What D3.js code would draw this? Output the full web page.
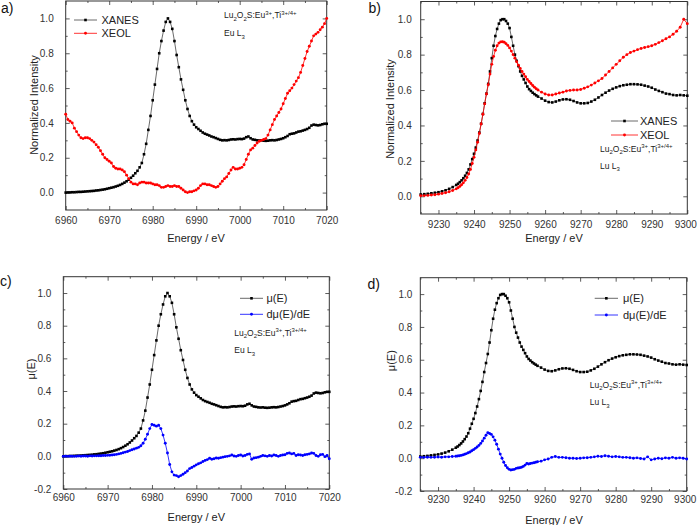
<!DOCTYPE html>
<html><head><meta charset="utf-8">
<script src="https://cdn.jsdelivr.net/npm/d3@7"></script>
<style>
html,body{margin:0;padding:0;background:#fff;}
text{font-family:"Liberation Sans",Arial,sans-serif;}
</style>
</head><body>
<svg id="chart" width="697" height="525"></svg>
<script>
// ---------- DATA ----------
// Eu L3 edge energies (eV) for panels a and c
const energyEu = [6960,6960.5,6961,6961.5,6962,6962.5,6963,6963.5,6964,6964.5,6965,6965.5,6966,6966.5,6967,6967.5,6968,6968.5,6969,6969.5,
6970,6970.5,6971,6971.5,6972,6972.5,6973,6973.5,6974,6974.5,6975,6975.5,6976,6976.5,6977,6977.5,6978,6978.5,6979,6979.5,
6980,6980.5,6981,6981.5,6982,6982.5,6983,6983.5,6984,6984.5,6985,6985.5,6986,6986.5,6987,6987.5,6988,6988.5,6989,6989.5,
6990,6990.5,6991,6991.5,6992,6992.5,6993,6993.5,6994,6994.5,6995,6995.5,6996,6996.5,6997,6997.5,6998,6998.5,6999,6999.5,
7000,7000.5,7001,7001.5,7002,7002.5,7003,7003.5,7004,7004.5,7005,7005.5,7006,7006.5,7007,7007.5,7008,7008.5,7009,7009.5,
7010,7010.5,7011,7011.5,7012,7012.5,7013,7013.5,7014,7014.5,7015,7015.5,7016,7016.5,7017,7017.5,7018,7018.5,7019,7019.5,7020];
// XANES / mu(E) at Eu L3
const xanesEu = [0.000,0.001,0.001,0.002,0.002,0.003,0.004,0.004,0.005,0.006,0.007,0.008,0.009,0.010,0.012,0.013,0.015,0.017,0.019,0.022,
0.025,0.028,0.031,0.035,0.039,0.044,0.050,0.057,0.065,0.074,0.085,0.097,0.111,0.125,0.145,0.170,0.220,0.280,0.360,0.440,
0.530,0.620,0.710,0.800,0.870,0.930,0.980,1.000,0.980,0.940,0.870,0.790,0.720,0.650,0.590,0.530,0.480,0.440,0.410,0.390,
0.375,0.365,0.355,0.345,0.338,0.333,0.328,0.322,0.318,0.313,0.308,0.303,0.300,0.301,0.300,0.302,0.305,0.306,0.305,0.307,
0.308,0.307,0.310,0.318,0.322,0.312,0.305,0.303,0.300,0.299,0.300,0.298,0.297,0.298,0.300,0.301,0.300,0.302,0.305,0.308,
0.312,0.318,0.325,0.335,0.338,0.340,0.345,0.350,0.352,0.356,0.360,0.365,0.372,0.385,0.390,0.388,0.386,0.388,0.392,0.395,0.395];
// XEOL at Eu L3
const xeolEu = [0.450,0.420,0.410,0.400,0.370,0.350,0.330,0.315,0.310,0.315,0.315,0.310,0.300,0.290,0.275,0.260,0.240,0.220,0.200,0.190,
0.180,0.170,0.150,0.140,0.135,0.135,0.130,0.120,0.100,0.080,0.060,0.050,0.050,0.045,0.055,0.060,0.060,0.055,0.055,0.055,
0.050,0.045,0.045,0.040,0.030,0.030,0.035,0.040,0.035,0.035,0.040,0.035,0.035,0.025,0.015,0.005,0.000,0.005,0.005,0.010,
0.015,0.025,0.040,0.050,0.050,0.045,0.045,0.040,0.035,0.030,0.035,0.050,0.065,0.080,0.090,0.110,0.130,0.145,0.135,0.135,
0.140,0.145,0.160,0.190,0.220,0.245,0.255,0.270,0.285,0.295,0.300,0.305,0.310,0.330,0.360,0.390,0.420,0.440,0.460,0.480,
0.510,0.540,0.570,0.585,0.600,0.620,0.640,0.660,0.690,0.730,0.770,0.810,0.840,0.870,0.900,0.910,0.920,0.935,0.950,0.970,1.000];
// d mu(E)/dE at Eu L3
const derivEu = [0.000,0.001,0.000,0.001,0.001,0.000,0.001,0.002,0.001,0.002,0.002,0.001,0.003,0.002,0.003,0.003,0.004,0.004,0.005,0.005,
0.006,0.007,0.008,0.010,0.012,0.015,0.018,0.022,0.026,0.030,0.035,0.040,0.045,0.050,0.055,0.065,0.080,0.105,0.135,0.170,
0.195,0.190,0.185,0.190,0.170,0.130,0.080,0.020,-0.050,-0.095,-0.115,-0.118,-0.125,-0.118,-0.110,-0.100,-0.090,-0.075,-0.068,-0.060,
-0.052,-0.045,-0.040,-0.032,-0.025,-0.020,-0.012,-0.018,-0.015,-0.010,-0.012,-0.008,-0.005,-0.002,0.000,0.003,0.008,0.002,0.000,0.005,
0.008,0.002,0.005,0.012,0.015,-0.018,-0.010,-0.008,-0.005,0.000,0.005,0.003,0.000,0.005,0.002,0.008,0.005,0.000,0.005,0.008,
0.010,0.018,0.020,0.015,0.018,0.005,0.010,0.008,0.005,0.010,0.012,0.015,0.020,0.018,0.005,0.000,0.010,0.012,-0.002,0.005,-0.015];

// Lu L3 edge energies (eV) for panels b and d
const energyLu = [9225,9226,9227,9228,9229,9230,9231,9232,9233,9234,9235,
9235.5,9236,9236.5,9237,9237.5,9238,9238.5,9239,9239.5,9240,9240.5,9241,9241.5,9242,9242.5,9243,9243.5,9244,9244.5,
9245,9245.5,9246,9246.5,9247,9247.5,9248,9248.5,9249,9249.5,9250,9250.5,9251,9251.5,9252,9252.5,9253,9253.5,9254,9254.5,
9255,9255.5,9256,9256.5,9257,9257.5,9258,
9259,9260,9261,9262,9263,9264,9265,9266,9267,9268,9269,9270,9271,9272,9273,9274,9275,9276,9277,9278,9279,
9280,9281,9282,9283,9284,9285,9286,9287,9288,9289,9290,9291,9292,9293,9294,9295,9296,9297,9298,9299,9300];
// XANES / mu(E) at Lu L3
const xanesLu = [0.010,0.012,0.014,0.017,0.020,0.023,0.028,0.034,0.042,0.052,0.064,
0.071,0.080,0.090,0.102,0.116,0.132,0.152,0.180,0.210,0.240,0.275,0.315,0.360,0.410,0.465,0.525,0.580,0.635,0.705,
0.780,0.850,0.905,0.945,0.975,0.995,1.000,1.000,0.990,0.975,0.950,0.900,0.850,0.800,0.765,0.735,0.705,0.680,0.660,0.640,
0.620,0.605,0.595,0.585,0.577,0.570,0.563,
0.552,0.540,0.532,0.530,0.535,0.542,0.547,0.548,0.545,0.538,0.530,0.525,0.525,0.527,0.535,0.545,0.558,0.572,0.585,0.597,0.607,
0.615,0.622,0.627,0.630,0.633,0.633,0.632,0.630,0.625,0.620,0.613,0.603,0.595,0.588,0.580,0.577,0.572,0.570,0.572,0.570,0.568];
// XEOL at Lu L3
const xeolLu = [0.003,0.004,0.005,0.007,0.009,0.012,0.016,0.020,0.026,0.033,0.042,
0.048,0.056,0.065,0.076,0.090,0.106,0.126,0.152,0.185,0.220,0.262,0.305,0.355,0.408,0.463,0.522,0.578,0.630,0.690,
0.745,0.790,0.825,0.850,0.865,0.872,0.873,0.870,0.862,0.852,0.838,0.820,0.800,0.780,0.760,0.740,0.722,0.705,0.690,0.675,
0.660,0.648,0.637,0.626,0.616,0.607,0.600,
0.588,0.578,0.572,0.572,0.578,0.583,0.588,0.595,0.598,0.600,0.600,0.603,0.610,0.618,0.628,0.640,0.652,0.665,0.685,0.705,0.725,
0.745,0.765,0.785,0.800,0.812,0.820,0.828,0.835,0.840,0.845,0.850,0.858,0.868,0.878,0.890,0.900,0.915,0.932,0.955,1.000,0.975];
// d mu(E)/dE at Lu L3
const derivLu = [0.005,0.005,0.006,0.005,0.006,0.007,0.006,0.008,0.008,0.010,0.012,
0.013,0.015,0.017,0.020,0.024,0.028,0.033,0.038,0.045,0.052,0.060,0.068,0.078,0.090,0.105,0.122,0.140,0.155,0.150,
0.145,0.130,0.110,0.085,0.055,0.025,0.000,-0.025,-0.045,-0.058,-0.068,-0.072,-0.070,-0.068,-0.062,-0.060,-0.058,-0.055,-0.050,-0.042,
-0.032,-0.035,-0.032,-0.030,-0.028,-0.025,-0.022,
-0.018,-0.010,-0.005,0.005,0.010,0.005,0.005,0.003,0.000,0.000,-0.002,0.000,0.002,0.003,0.005,0.008,0.012,0.010,0.015,0.012,0.008,
0.010,0.008,0.005,0.005,0.003,0.000,0.002,-0.002,-0.005,0.008,-0.010,-0.005,0.000,-0.003,0.002,0.000,0.005,0.000,0.002,0.000,-0.005];

// tick labels
const xTicksEu = [6960,6970,6980,6990,7000,7010,7020];
const xTicksLu = [9230,9240,9250,9260,9270,9280,9290,9300];
const yTicksAB = [0.0,0.2,0.4,0.6,0.8,1.0];
const yTicksCD = [-0.2,0.0,0.2,0.4,0.6,0.8,1.0];

// ---------- DRAWING ----------
const svg = d3.select('#chart');
const FONT = '"Liberation Sans",Arial,sans-serif';
const COL = {black:'#000000', blackLine:'#444444', red:'#ff0000', blue:'#0000ff'};

function fmtY(d){ return d3.format('.1f')(d).replace('\u2212','-'); }

function drawPanel(P){
  const g = svg.append('g');
  const x = d3.scaleLinear().domain(P.xd).range([P.l, P.r]);
  const y = d3.scaleLinear().domain(P.yd).range([P.b, P.t]);
  const xStep = 5, yStep = 0.1;
  const xMinor = d3.range(Math.ceil(P.xd[0]/xStep)*xStep, P.xd[1]+0.001, xStep).filter(v => !P.xt.includes(v));
  const yMinor = d3.range(P.yd[0]+0.1, P.yd[1]-0.05, yStep).map(v => +v.toFixed(2)).filter(v => !P.yt.some(t => Math.abs(t-v)<1e-6));

  const ax = [];
  const bottom = g.append('g').attr('transform',`translate(0,${P.b})`)
    .call(d3.axisBottom(x).tickValues(P.xt).tickSizeInner(-4).tickSizeOuter(0).tickPadding(P.xpad).tickFormat(d3.format('d')));
  ax.push(bottom);
  ax.push(g.append('g').attr('transform',`translate(0,${P.b})`)
    .call(d3.axisBottom(x).tickValues(xMinor).tickSizeInner(-2).tickSizeOuter(0).tickFormat('')));
  ax.push(g.append('g').attr('transform',`translate(0,${P.t})`)
    .call(d3.axisTop(x).tickValues(P.xt).tickSizeInner(-4).tickSizeOuter(0).tickFormat('')));
  ax.push(g.append('g').attr('transform',`translate(0,${P.t})`)
    .call(d3.axisTop(x).tickValues(xMinor).tickSizeInner(-2).tickSizeOuter(0).tickFormat('')));
  ax.push(g.append('g').attr('transform',`translate(${P.l},0)`)
    .call(d3.axisLeft(y).tickValues(P.yt).tickSizeInner(-4).tickSizeOuter(0).tickPadding(P.ypad).tickFormat(fmtY)));
  ax.push(g.append('g').attr('transform',`translate(${P.l},0)`)
    .call(d3.axisLeft(y).tickValues(yMinor).tickSizeInner(-2).tickSizeOuter(0).tickFormat('')));
  ax.push(g.append('g').attr('transform',`translate(${P.r},0)`)
    .call(d3.axisRight(y).tickValues(P.yt).tickSizeInner(-4).tickSizeOuter(0).tickFormat('')));
  ax.push(g.append('g').attr('transform',`translate(${P.r},0)`)
    .call(d3.axisRight(y).tickValues(yMinor).tickSizeInner(-2).tickSizeOuter(0).tickFormat('')));
  ax.forEach(a => {
    a.select('.domain').remove();
    a.selectAll('line').attr('stroke','#333').attr('stroke-width',0.8);
    a.selectAll('text').attr('font-family',FONT).attr('font-size',10).attr('fill','#333');
  });
  if (P.lastShift) {
    bottom.selectAll('.tick').filter(d => d === P.xt[P.xt.length-1]).select('text').attr('dx', P.lastShift);
  }

  g.append('rect').attr('x',P.l).attr('y',P.t).attr('width',P.r-P.l).attr('height',P.b-P.t)
    .attr('fill','none').attr('stroke','#333').attr('stroke-width',1);

  // series
  P.series.forEach(s => {
    const pts = P.energy.map((e,i) => [e, s.values[i]]);
    g.append('path').datum(pts)
      .attr('fill','none').attr('stroke',s.line).attr('stroke-width',0.8)
      .attr('d', d3.line().x(d => x(d[0])).y(d => y(d[1])));
    if (s.shape === 'square') {
      g.append('g').selectAll('rect').data(pts).join('rect')
        .attr('x', d => x(d[0])-1.3).attr('y', d => y(d[1])-1.3)
        .attr('width',2.6).attr('height',2.6).attr('fill',s.color);
    } else {
      g.append('g').selectAll('circle').data(pts).join('circle')
        .attr('cx', d => x(d[0])).attr('cy', d => y(d[1])).attr('r',1.45).attr('fill',s.color);
    }
  });

  // legend
  P.series.forEach((s,i) => {
    const ly = P.leg.y + i*P.leg.dy;
    g.append('line').attr('x1',P.leg.x1).attr('x2',P.leg.x2).attr('y1',ly).attr('y2',ly)
      .attr('stroke',s.line).attr('stroke-width',0.8);
    const mx = (P.leg.x1+P.leg.x2)/2;
    if (s.shape === 'square') {
      g.append('rect').attr('x',mx-1.3).attr('y',ly-1.3).attr('width',2.6).attr('height',2.6).attr('fill',s.color);
    } else {
      g.append('circle').attr('cx',mx).attr('cy',ly).attr('r',1.45).attr('fill',s.color);
    }
    g.append('text').attr('x',P.leg.tx).attr('y',ly).attr('dy','0.36em')
      .attr('font-family',FONT).attr('font-size',11).attr('fill','#222').text(s.name);
  });

  // annotation
  const a1 = g.append('text').attr('x',P.ann.x).attr('y',P.ann.y).attr('dy','0.36em')
    .attr('font-family',FONT).attr('font-size',8.5).attr('fill','#222');
  const parts = [['Lu',0],['2',1],['O',0],['2',1],['S:Eu',0],['3+',-1],[',Ti',0],['3+/4+',-1]];
  let prev = 0;
  parts.forEach(([t,k]) => {
    const shift = k===1 ? 2.5 : (k===-1 ? -3.5 : 0);
    a1.append('tspan').attr('dy', shift - prev).attr('font-size', k===0 ? 8.5 : 6).text(t);
    prev = shift;
  });
  const a2 = g.append('text').attr('x',P.ann.x).attr('y',P.ann.y+P.ann.dy).attr('dy','0.36em')
    .attr('font-family',FONT).attr('font-size',8.5).attr('fill','#222');
  a2.append('tspan').text(P.ann.edge + ' L');
  a2.append('tspan').attr('dy',2.5).attr('font-size',6).text('3');

  // axis titles
  g.append('text').attr('x',P.xtitle[0]).attr('y',P.xtitle[1]).attr('dy','0.36em')
    .attr('text-anchor','middle').attr('font-family',FONT).attr('font-size',11).attr('fill','#222')
    .text('Energy / eV');
  g.append('text').attr('transform',`translate(${P.ytitle[0]},${P.ytitle[1]}) rotate(-90)`).attr('dy','0.36em')
    .attr('text-anchor','middle').attr('font-family',FONT).attr('font-size',11).attr('fill','#222')
    .text(P.ylabel);

  // panel label
  g.append('text').attr('x',P.tag[0]).attr('y',P.tag[1])
    .attr('font-family',FONT).attr('font-size',14).attr('fill','#111').text(P.tagText);
}

drawPanel({
  l:65.7, r:326.7, t:1, b:210, xd:[6960,7020], yd:[-0.1,1.1], xt:xTicksEu, yt:yTicksAB, xpad:7, ypad:12,
  energy: energyEu,
  series: [
    {name:'XANES', values:xanesEu, color:COL.black, line:COL.blackLine, shape:'square'},
    {name:'XEOL', values:xeolEu, color:COL.red, line:COL.red, shape:'circle'}
  ],
  leg:{x1:74, x2:97, tx:101.5, y:20, dy:13.3},
  ann:{x:224, y:18.3, dy:15, edge:'Eu'},
  xtitle:[196,238], ytitle:[34.5,105], ylabel:'Normalized Intensity',
  tag:[1,12.5], tagText:'a)'
});

drawPanel({
  l:420.7, r:687.3, t:1.5, b:214, xd:[9225,9300], yd:[-0.1,1.1], xt:xTicksLu, yt:yTicksAB, xpad:7, ypad:9,
  energy: energyLu, lastShift:-2,
  series: [
    {name:'XANES', values:xanesLu, color:COL.black, line:COL.blackLine, shape:'square'},
    {name:'XEOL', values:xeolLu, color:COL.red, line:COL.red, shape:'circle'}
  ],
  leg:{x1:611, x2:638, tx:640, y:121, dy:14},
  ann:{x:600, y:151.7, dy:14, edge:'Lu'},
  xtitle:[554,238], ytitle:[390.5,109], ylabel:'Normalized Intensity',
  tag:[368.5,12.5], tagText:'b)'
});

drawPanel({
  l:63.3, r:329.3, t:276.7, b:489, xd:[6960,7020], yd:[-0.2,1.1], xt:xTicksEu, yt:yTicksCD, xpad:5, ypad:12,
  energy: energyEu,
  series: [
    {name:'\u03bc(E)', values:xanesEu, color:COL.black, line:COL.blackLine, shape:'square'},
    {name:'d\u03bc(E)/dE', values:derivEu, color:COL.blue, line:COL.blue, shape:'circle'}
  ],
  leg:{x1:240, x2:263, tx:266.5, y:298.3, dy:16},
  ann:{x:234.3, y:335.7, dy:14.3, edge:'Eu'},
  xtitle:[196.3,517], ytitle:[31,369], ylabel:'\u03bc(E)',
  tag:[0,286], tagText:'c)'
});

drawPanel({
  l:420.3, r:686.7, t:277.7, b:491, xd:[9225,9300], yd:[-0.2,1.1], xt:xTicksLu, yt:yTicksCD, xpad:5, ypad:8,
  energy: energyLu, lastShift:-2,
  series: [
    {name:'\u03bc(E)', values:xanesLu, color:COL.black, line:COL.blackLine, shape:'square'},
    {name:'d\u03bc(E)/dE', values:derivLu, color:COL.blue, line:COL.blue, shape:'circle'}
  ],
  leg:{x1:594.7, x2:618, tx:623, y:298.3, dy:16.7},
  ann:{x:589.7, y:387.7, dy:14.6, edge:'Lu'},
  xtitle:[554,520], ytitle:[391,360.7], ylabel:'\u03bc(E)',
  tag:[367.5,289], tagText:'d)'
});
</script>
</body></html>
